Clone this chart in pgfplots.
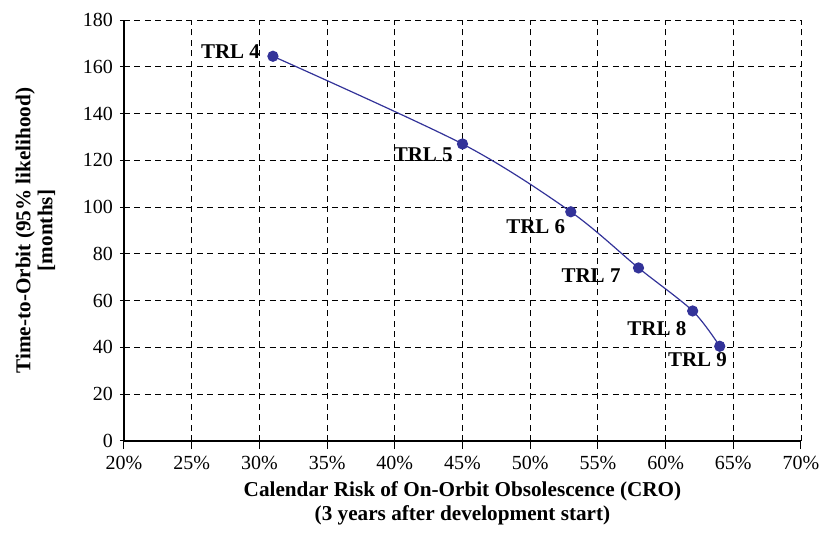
\documentclass[border=0pt]{standalone}
\usepackage{pgfplots}
\pgfplotsset{compat=1.18}
\usepackage{fontspec}
\setmainfont{Liberation Serif}

\definecolor{trlblue}{RGB}{51,51,153}

\begin{document}
\begin{tikzpicture}
\path[use as bounding box] (-62pt,-47.5pt) rectangle (351.5pt,220.5pt);
\begin{axis}[
  at={(0,0)}, anchor=south west,
  scale only axis, width=338.5pt, height=210.5pt,
  xmin=20, xmax=70, ymin=0, ymax=180,
  xtick={20,25,...,70}, ytick={0,20,...,180},
  xticklabel={\pgfmathprintnumber{\tick}\%},
  /pgf/number format/assume math mode=true,
  ticklabel style={font=\fontsize{10}{12}\selectfont},
  axis x line=bottom, axis y line=left,
  axis line style={-, line width=0.8pt},
  x axis line style={-},
  y axis line style={-},
  xtick align=outside, ytick align=center,
  major tick length=4pt,
  tick style={black, line width=0.5pt},
  grid=major,
  major grid style={black, line width=0.45pt, dash pattern=on 3pt off 2.2pt},
  xlabel={Calendar Risk of On-Orbit Obsolescence (CRO)\\(3 years after development start)},
  ylabel={Time-to-Orbit (95\% likelihood)\\{}[months]},
  xlabel style={font=\fontsize{10.6}{12}\selectfont\bfseries, align=center},
  ylabel style={font=\fontsize{10.6}{11}\selectfont\bfseries, align=center},
  xlabel shift=-1pt,
  ylabel shift=7pt,
  clip=false,
]
\addplot[trlblue, line width=0.6pt, smooth, tension=0.5,
  mark=*, mark size=2.5pt, mark options={fill=trlblue, draw=trlblue}]
  coordinates {(31,164.5) (45,127) (53,98) (58,74) (62,55.6) (64,40.5)};

\begin{scope}[every node/.style={font=\fontsize{10.5}{12}\selectfont\bfseries, inner sep=0pt}]
\node[anchor=east, xshift=-6.3pt, yshift=2.3pt] at (axis cs:31,164.5) {TRL 4};
\node[anchor=east, xshift=-4.7pt, yshift=-5.3pt] at (axis cs:45,127) {TRL 5};
\node[anchor=east, xshift=-2.6pt, yshift=-7.2pt] at (axis cs:53,98) {TRL 6};
\node[anchor=east, xshift=-8.8pt, yshift=-4pt] at (axis cs:58,74) {TRL 7};
\node[anchor=east, xshift=-3pt, yshift=-8.8pt] at (axis cs:62,55.6) {TRL 8};
\node[anchor=east, xshift=3.8pt, yshift=-6.6pt] at (axis cs:64,40.5) {TRL 9};
\end{scope}
\end{axis}
\end{tikzpicture}
\end{document}
